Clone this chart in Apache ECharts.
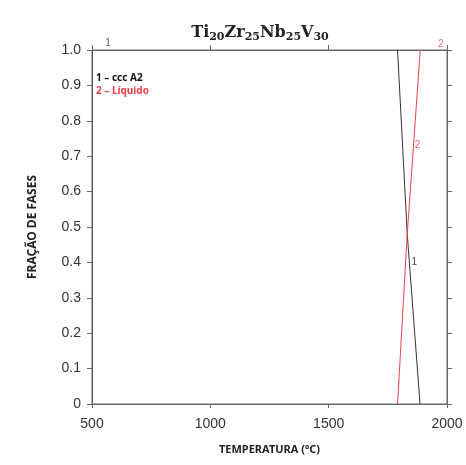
<!DOCTYPE html>
<html><head><meta charset="utf-8">
<script src="https://cdn.jsdelivr.net/npm/echarts@6/dist/echarts.min.js"></script>
<style>html,body{margin:0;padding:0;background:#fff}#c{width:466px;height:465px}</style>
</head><body><div id="c"></div>
<script>
// Data
const seriesNames = ['1 – ccc A2', '2 – Líquido'];
const phase1Temp = [1791, 1832, 1886];
const phase1Frac = [1.0, 0.48, 0.0];
const phase2Temp = [1791, 1832, 1887];
const phase2Frac = [0.0, 0.48, 1.0];
const labelText = ['1', '2', '2', '1'];
const labelTemp = [568, 1975, 1876, 1862];
const labelFrac = [1.018, 1.016, 0.73, 0.40];
const labelColor = ['#333', '#e8424a', '#e8424a', '#222'];
const xTicks = [500, 1000, 1500, 2000];
const yTicks = ['0', '0.1', '0.2', '0.3', '0.4', '0.5', '0.6', '0.7', '0.8', '0.9', '1.0'];

const zip = (a, b) => a.map((v, i) => [v, b[i]]);
const chart = echarts.init(document.getElementById('c'));
const axisCol = '#666';
chart.setOption({
  animation: false,
  title: {
    text: 'Ti{s|20}Zr{s|25}Nb{s|25}V{s|30}',
    left: 255, textAlign: 'center', top: 18,
    textStyle: {
      fontFamily: 'DejaVu Serif', fontWeight: 'bold', fontSize: 16, color: '#222',
      rich: { s: { fontFamily: 'DejaVu Serif', fontWeight: 'bold', fontSize: 11, color: '#222', verticalAlign: 'bottom', padding: [9, 0, 0, 0] } }
    }
  },
  legend: {
    orient: 'vertical', left: 91, top: 68, itemGap: 3,
    icon: 'none', itemWidth: 0, itemHeight: 0,
    data: [
      { name: seriesNames[0], textStyle: { color: '#111' } },
      { name: seriesNames[1], textStyle: { color: '#e8424a' } }
    ],
    textStyle: { fontFamily: 'Noto Sans', fontWeight: 'bold', fontSize: 10, padding: [0, 0, 0, -5] }
  },
  grid: { left: 92, right: 19, top: 50, bottom: 61, show: true, borderColor: '#6a6a6a', borderWidth: 1, backgroundColor: 'transparent' },
  xAxis: [{
    type: 'value', min: 500, max: 2000, interval: 500,
    name: 'TEMPERATURA (ºC)', nameLocation: 'middle', nameGap: 40,
    nameTextStyle: { fontFamily: 'Noto Sans', fontWeight: 'bold', fontSize: 11, color: '#222' },
    axisLine: { show: true, onZero: false, lineStyle: { color: axisCol } },
    axisTick: { show: true, length: 4, lineStyle: { color: axisCol } },
    axisLabel: { fontFamily: 'Liberation Sans', fontSize: 14, color: '#333', margin: 13,
      formatter: v => xTicks.includes(v) ? String(v) : '' },
    splitLine: { show: false }
  }, {
    type: 'value', position: 'top', min: 500, max: 2000, interval: 500,
    axisLine: { show: true, onZero: false, lineStyle: { color: axisCol } },
    axisTick: { show: true, length: 5, lineStyle: { color: axisCol } },
    axisLabel: { show: false }, splitLine: { show: false }
  }],
  yAxis: [{
    type: 'value', min: 0, max: 1, interval: 0.1,
    name: 'FRAÇÃO DE FASES', nameLocation: 'middle', nameGap: 53,
    nameTextStyle: { fontFamily: 'Noto Sans', fontWeight: 'bold', fontSize: 12, color: '#222' },
    axisLine: { show: true, onZero: false, lineStyle: { color: '#555' } },
    axisTick: { show: true, length: 5, lineStyle: { color: '#666' } },
    axisLabel: { fontFamily: 'Liberation Sans', fontSize: 14, color: '#333', margin: 11,
      formatter: v => yTicks[Math.round(v * 10)] },
    splitLine: { show: false }
  }, {
    type: 'value', position: 'right', min: 0, max: 1, interval: 0.1,
    axisLine: { show: true, onZero: false, lineStyle: { color: axisCol } },
    axisTick: { show: true, length: 5, lineStyle: { color: axisCol } },
    axisLabel: { show: false }, splitLine: { show: false }
  }],
  series: [{
    name: seriesNames[0], type: 'line', data: zip(phase1Temp, phase1Frac),
    showSymbol: false, symbol: 'none', lineStyle: { color: '#333', width: 1 }, itemStyle: { color: '#333' }
  }, {
    name: seriesNames[1], type: 'line', data: zip(phase2Temp, phase2Frac),
    showSymbol: false, symbol: 'none', lineStyle: { color: '#e8424a', width: 1 }, itemStyle: { color: '#e8424a' }
  }, {
    type: 'scatter', symbolSize: 0, silent: true, clip: false,
    data: labelText.map((t, i) => ({ value: [labelTemp[i], labelFrac[i]], name: t,
      label: { show: true, position: 'inside', formatter: t, color: labelColor[i],
        fontFamily: 'Liberation Sans', fontSize: 10 } }))
  }]
});
</script></body></html>
